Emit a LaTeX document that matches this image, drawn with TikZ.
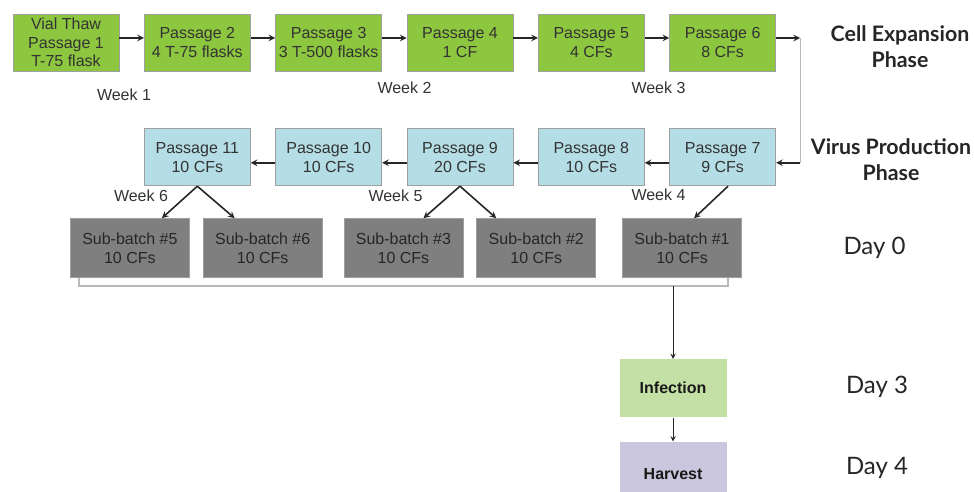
\documentclass[tikz,border=0pt]{standalone}
\usepackage{fontspec}
\setmainfont{Liberation Sans}
\newfontfamily\labelfont{Lato}
\usepackage{tikz}
\usetikzlibrary{shapes,arrows,positioning,calc}

\definecolor{expgreen}{HTML}{8DC63F}
\definecolor{virblue}{HTML}{B5DDE6}
\definecolor{subgray}{HTML}{7F7F7F}
\definecolor{infgreen}{HTML}{C5E0A5}
\definecolor{harvlav}{HTML}{C9C6DD}
\definecolor{boxtext}{HTML}{333333}

\begin{document}
\begin{tikzpicture}[x=0.75pt, y=-0.75pt,
    passage/.style={rectangle, draw=gray!75, line width=0.6pt, fill=expgreen, minimum width=79.5pt, minimum height=42.75pt, inner sep=1pt, align=center, text=boxtext, font=\fontsize{12}{14}\selectfont},
    subbatch/.style={passage, fill=subgray, minimum width=89.25pt, minimum height=44.25pt, text=black!85},
    final/.style={rectangle, minimum width=80.25pt, minimum height=43.5pt, font=\bfseries\fontsize{12}{14}\selectfont, text=black!90},
    week/.style={font=\fontsize{12}{14}\selectfont, text=boxtext},
    phase/.style={align=center, font=\labelfont\bfseries\fontsize{16}{19.5}\selectfont, text=black!85},
    day/.style={font=\labelfont\fontsize{18}{20}\selectfont, text=black!85},
    arrow/.style={->, >=stealth, line width=1.2pt, black!85},
    thin arrow/.style={->, >=stealth, line width=0.8pt, black!85},
    link/.style={gray!55, line width=0.8pt}]

    \useasboundingbox (0,0) rectangle (974,492);

    % cell expansion
    \node[passage] (p1) at (66,42.5) {Vial Thaw\\Passage 1\\T-75 flask};
    \node[passage, right=18.4pt of p1] (p2) {Passage 2\\4 T-75 flasks};
    \node[passage, right=18.4pt of p2] (p3) {Passage 3\\3 T-500 flasks};
    \node[passage, right=18.4pt of p3] (p4) {Passage 4\\1 CF};
    \node[passage, right=18.4pt of p4] (p5) {Passage 5\\4 CFs};
    \node[passage, right=18.4pt of p5] (p6) {Passage 6\\8 CFs};

    % virus production
    \node[passage, fill=virblue, below=42.75pt of p6] (p7) {Passage 7\\9 CFs};
    \node[passage, fill=virblue, left=18.4pt of p7] (p8) {Passage 8\\10 CFs};
    \node[passage, fill=virblue, left=18.4pt of p8] (p9) {Passage 9\\20 CFs};
    \node[passage, fill=virblue, left=18.4pt of p9] (p10) {Passage 10\\10 CFs};
    \node[passage, fill=virblue, left=18.4pt of p10] (p11) {Passage 11\\10 CFs};

    % sub-batches
    \node[subbatch, below=24pt of p11, xshift=-50.6pt] (sb5) {Sub-batch \#5\\10 CFs};
    \node[subbatch, right=9.75pt of sb5] (sb6) {Sub-batch \#6\\10 CFs};
    \node[subbatch, right=15.75pt of sb6] (sb3) {Sub-batch \#3\\10 CFs};
    \node[subbatch, right=9.75pt of sb3] (sb2) {Sub-batch \#2\\10 CFs};
    \node[subbatch, right=19.5pt of sb2] (sb1) {Sub-batch \#1\\10 CFs};

    \node[final, fill=infgreen, below=60.75pt of sb1, xshift=-6.75pt] (inf) {Infection};
    \node[final, fill=harvlav, below=18pt of inf, minimum height=48pt] (harv) {Harvest};

    % labels
    \node[week] (w1) at (124,95) {Week 1};
    \node[week] (w2) at (404.5,88) {Week 2};
    \node[week] (w3) at (658.5,88) {Week 3};
    \node[week] (w4) at (658.5,195) {Week 4};
    \node[week] (w5) at (395.5,196) {Week 5};
    \node[week] (w6) at (141,196) {Week 6};

    \node[phase] (cell) at (900,46.5) {Cell Expansion\\Phase};
    \node[phase] (virus) at (891,160) {Virus Production\\Phase};
    \node[day] (d0) at (874.5,248) {Day 0};
    \node[day] (d3) at (877,387) {Day 3};
    \node[day] (d4) at (877,468) {Day 4};

    % connectors
    \draw[arrow] ([yshift=3.4pt]p1.east) -- ([yshift=3.4pt]p2.west);
    \draw[arrow] ([yshift=3.4pt]p2.east) -- ([yshift=3.4pt]p3.west);
    \draw[arrow] ([yshift=3.4pt]p3.east) -- ([yshift=3.4pt]p4.west);
    \draw[arrow] ([yshift=3.4pt]p4.east) -- ([yshift=3.4pt]p5.west);
    \draw[arrow] ([yshift=3.4pt]p5.east) -- ([yshift=3.4pt]p6.west);
    \coordinate (c1) at ([xshift=18pt,yshift=3.4pt]p6.east);
    \coordinate (c2) at ([xshift=18pt,yshift=-4.1pt]p7.east);
    \draw[arrow] ([yshift=3.4pt]p6.east) -- (c1);
    \draw[link] (c1) -- (c2);
    \draw[arrow] (c2) -- ([yshift=-4.1pt]p7.east);
    \draw[arrow] ([yshift=-4.1pt]p7.west) -- ([yshift=-4.1pt]p8.east);
    \draw[arrow] ([yshift=-4.1pt]p8.west) -- ([yshift=-4.1pt]p9.east);
    \draw[arrow] ([yshift=-4.1pt]p9.west) -- ([yshift=-4.1pt]p10.east);
    \draw[arrow] ([yshift=-4.1pt]p10.west) -- ([yshift=-4.1pt]p11.east);

    \draw[arrow] (p11.south) -- ([xshift=24pt]sb5.north);
    \draw[arrow] (p11.south) -- ([xshift=-21pt]sb6.north);
    \draw[arrow] (p9.south) -- ([xshift=15pt]sb3.north);
    \draw[arrow] (p9.south) -- ([xshift=-30pt]sb2.north);
    \draw[arrow] ([xshift=4pt]p7.south) -- ([xshift=9pt]sb1.north);

    \draw[link] ([xshift=6.75pt]sb5.south west) -- ++(0,-6pt) coordinate (bl)
        -| ([xshift=-10.5pt]sb1.south east);
    \draw[thin arrow] (bl -| inf.north) -- (inf.north);
    \draw[thin arrow] (inf.south) -- (harv.north);
\end{tikzpicture}
\end{document}
